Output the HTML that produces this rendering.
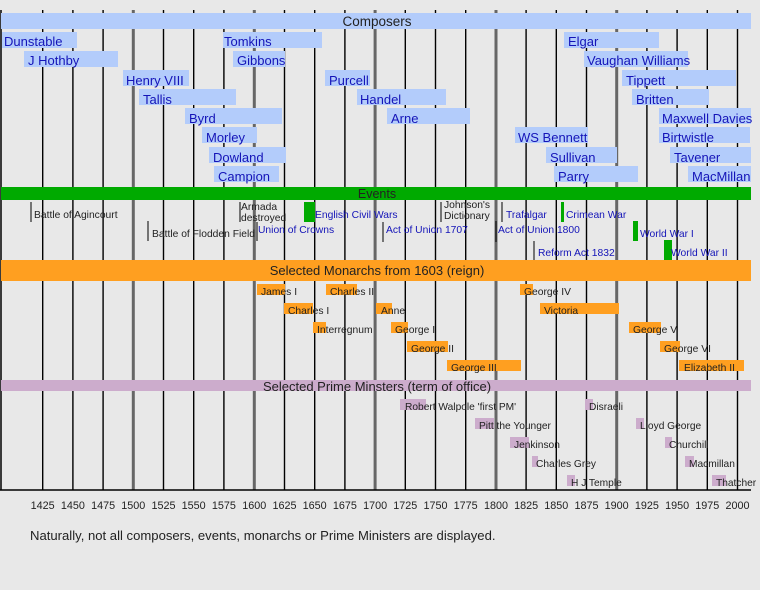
<!DOCTYPE html>
<html><head><meta charset="utf-8"><style>
body{margin:0;background:#e8e8e8}
svg{display:block;font-family:"Liberation Sans",sans-serif}
.c{font-size:13px;fill:#1414b8}
.e{font-size:10.3px;fill:#222}
.eb{font-size:10.3px;fill:#1414b8}
.m{font-size:10.3px;fill:#222}
.t{font-size:10.2px;fill:#222}
</style></head><body>
<svg width="760" height="590" viewBox="0 0 760 590">
<rect width="760" height="590" fill="#e8e8e8"/>
<g stroke="#000" stroke-width="1.4">
<line x1="42.7" y1="10" x2="42.7" y2="490"/><line x1="72.9" y1="10" x2="72.9" y2="490"/><line x1="103.1" y1="10" x2="103.1" y2="490"/>
<line x1="163.5" y1="10" x2="163.5" y2="490"/><line x1="193.7" y1="10" x2="193.7" y2="490"/><line x1="223.9" y1="10" x2="223.9" y2="490"/>
<line x1="284.5" y1="10" x2="284.5" y2="490"/><line x1="314.7" y1="10" x2="314.7" y2="490"/><line x1="344.9" y1="10" x2="344.9" y2="490"/>
<line x1="405.3" y1="10" x2="405.3" y2="490"/><line x1="435.5" y1="10" x2="435.5" y2="490"/><line x1="465.7" y1="10" x2="465.7" y2="490"/>
<line x1="526.1" y1="10" x2="526.1" y2="490"/><line x1="556.3" y1="10" x2="556.3" y2="490"/><line x1="586.5" y1="10" x2="586.5" y2="490"/>
<line x1="646.9" y1="10" x2="646.9" y2="490"/><line x1="677.1" y1="10" x2="677.1" y2="490"/><line x1="707.3" y1="10" x2="707.3" y2="490"/>
<line x1="737.5" y1="10" x2="737.5" y2="490"/>
</g>
<g stroke="#666" stroke-width="3">
<line x1="133.3" y1="10" x2="133.3" y2="490"/><line x1="254.3" y1="10" x2="254.3" y2="490"/><line x1="375.1" y1="10" x2="375.1" y2="490"/>
<line x1="496" y1="10" x2="496" y2="490"/><line x1="616.7" y1="10" x2="616.7" y2="490"/>
</g>
<line x1="1" y1="10" x2="1" y2="490" stroke="#000" stroke-width="1.5"/>
<line x1="0" y1="490" x2="751" y2="490" stroke="#000" stroke-width="1.5"/>

<!-- Composers -->
<rect x="1" y="13" width="750" height="16" fill="#b3ccfb"/>
<text x="377" y="26" text-anchor="middle" font-size="13.5" fill="#222">Composers</text>
<g fill="#b3ccfb">
<rect x="2" y="32" width="75" height="16"/><rect x="24" y="51" width="94" height="16"/><rect x="123" y="70" width="66" height="16"/>
<rect x="139" y="89" width="97" height="16"/><rect x="185" y="108" width="97" height="16"/><rect x="202" y="127" width="55" height="16"/>
<rect x="209" y="147" width="77" height="16"/><rect x="214" y="166" width="65" height="16"/><rect x="223" y="32" width="99" height="16"/>
<rect x="233" y="51" width="52" height="16"/><rect x="325" y="70" width="45" height="16"/><rect x="357" y="89" width="89" height="16"/>
<rect x="387" y="108" width="83" height="16"/><rect x="564" y="32" width="95" height="16"/><rect x="584" y="51" width="104" height="16"/>
<rect x="622" y="70" width="114" height="16"/><rect x="632" y="89" width="77" height="16"/><rect x="659" y="108" width="92" height="16"/>
<rect x="515" y="127" width="73" height="16"/><rect x="659" y="127" width="91" height="16"/><rect x="546" y="147" width="71" height="16"/>
<rect x="670" y="147" width="81" height="16"/><rect x="554" y="166" width="84" height="16"/><rect x="688" y="166" width="63" height="16"/>
</g>
<g class="c">
<text x="4" y="46">Dunstable</text><text x="28" y="65">J Hothby</text><text x="126" y="85">Henry VIII</text>
<text x="143" y="104">Tallis</text><text x="189" y="123">Byrd</text><text x="206" y="142">Morley</text>
<text x="213" y="162">Dowland</text><text x="218" y="181">Campion</text><text x="224" y="46">Tomkins</text>
<text x="237" y="65">Gibbons</text><text x="329" y="85">Purcell</text><text x="360" y="104">Handel</text>
<text x="391" y="123">Arne</text><text x="568" y="46">Elgar</text><text x="587" y="65">Vaughan Williams</text>
<text x="626" y="85">Tippett</text><text x="636" y="104">Britten</text><text x="662" y="123">Maxwell Davies</text>
<text x="518" y="142">WS Bennett</text><text x="662" y="142">Birtwistle</text><text x="550" y="162">Sullivan</text>
<text x="674" y="162">Tavener</text><text x="558" y="181">Parry</text><text x="692" y="181">MacMillan</text>
</g>

<!-- Events -->
<rect x="1" y="187" width="750" height="13" fill="#00aa00"/>
<text x="377" y="198" text-anchor="middle" font-size="12.5" fill="#222">Events</text>
<g stroke="#000" stroke-width="1">
<line x1="31" y1="202" x2="31" y2="222"/><line x1="148" y1="221" x2="148" y2="241"/><line x1="240" y1="202" x2="240" y2="222"/>
<line x1="257" y1="222" x2="257" y2="241"/><line x1="383" y1="222" x2="383" y2="242"/><line x1="441" y1="202" x2="441" y2="222"/>
<line x1="502" y1="202" x2="502" y2="222"/><line x1="496" y1="221" x2="496" y2="242"/><line x1="534" y1="241" x2="534" y2="260"/>
</g>
<g fill="#00aa00">
<rect x="304" y="202" width="11" height="20"/><rect x="561" y="202" width="3" height="20"/>
<rect x="633" y="221" width="5" height="20"/><rect x="664" y="240" width="8" height="20"/>
</g>
<g class="e">
<text x="34" y="218">Battle of Agincourt</text><text x="152" y="237">Battle of Flodden Field</text>
<text x="241" y="210">Armada</text><text x="241" y="221">destroyed</text>
<text x="444" y="208">Johnson's</text><text x="444" y="219">Dictionary</text>
</g>
<g class="eb">
<text x="258" y="233">Union of Crowns</text><text x="315" y="218">English Civil Wars</text>
<text x="386" y="233">Act of Union 1707</text><text x="506" y="218">Trafalgar</text>
<text x="498" y="233">Act of Union 1800</text><text x="566" y="218">Crimean War</text>
<text x="538" y="256">Reform Act 1832</text><text x="640" y="237">World War I</text>
<text x="671" y="256">World War II</text>
</g>

<!-- Monarchs -->
<rect x="1" y="260" width="750" height="21" fill="#ff9f20"/>
<text x="377" y="275" text-anchor="middle" font-size="13" fill="#222">Selected Monarchs from 1603 (reign)</text>
<g fill="#ff9f20">
<rect x="257" y="284" width="28" height="11"/><rect x="326" y="284" width="31" height="11"/><rect x="284" y="303" width="29" height="11"/>
<rect x="313" y="322" width="13" height="11"/><rect x="376" y="303" width="16" height="11"/><rect x="391" y="322" width="17" height="11"/>
<rect x="407" y="341" width="41" height="11"/><rect x="447" y="360" width="74" height="11"/><rect x="520" y="284" width="13" height="11"/>
<rect x="540" y="303" width="79" height="11"/><rect x="629" y="322" width="32" height="11"/><rect x="660" y="341" width="20" height="11"/>
<rect x="679" y="360" width="65" height="11"/>
</g>
<g class="m">
<text x="261" y="295">James I</text><text x="330" y="295">Charles II</text><text x="288" y="314">Charles I</text>
<text x="317" y="333">Interregnum</text><text x="381" y="314">Anne</text><text x="395" y="333">George I</text>
<text x="411" y="352">George II</text><text x="451" y="371">George III</text><text x="524" y="295">George IV</text>
<text x="544" y="314">Victoria</text><text x="633" y="333">George V</text><text x="664" y="352">George VI</text>
<text x="684" y="371">Elizabeth II</text>
</g>

<!-- PMs -->
<rect x="1" y="380" width="750" height="11" fill="#ccaccc"/>
<text x="377" y="391" text-anchor="middle" font-size="13" fill="#222">Selected Prime Minsters (term of office)</text>
<g fill="#ccaccc">
<rect x="400" y="399" width="26" height="11"/><rect x="475" y="418" width="19" height="11"/><rect x="510" y="437" width="19" height="11"/>
<rect x="532" y="456" width="6" height="11"/><rect x="567" y="475" width="8" height="11"/><rect x="585" y="399" width="8" height="11"/>
<rect x="636" y="418" width="8" height="11"/><rect x="665" y="437" width="7" height="11"/><rect x="685" y="456" width="9" height="11"/>
<rect x="712" y="475" width="14" height="11"/>
</g>
<g class="t">
<text x="405" y="410">Robert Walpole 'first PM'</text><text x="479" y="429">Pitt the Younger</text>
<text x="514" y="448">Jenkinson</text><text x="536" y="467">Charles Grey</text><text x="571" y="486">H J Temple</text>
<text x="589" y="410">Disraeli</text><text x="640" y="429">Lloyd George</text><text x="669" y="448">Churchill</text>
<text x="689" y="467">Macmillan</text><text x="716" y="486">Thatcher</text>
</g>

<!-- Axis labels -->
<g font-size="10.8" fill="#222" text-anchor="middle">
<text x="42.7" y="509">1425</text><text x="72.9" y="509">1450</text><text x="103.1" y="509">1475</text><text x="133.3" y="509">1500</text>
<text x="163.5" y="509">1525</text><text x="193.7" y="509">1550</text><text x="223.9" y="509">1575</text><text x="254.3" y="509">1600</text>
<text x="284.5" y="509">1625</text><text x="314.7" y="509">1650</text><text x="344.9" y="509">1675</text><text x="375.1" y="509">1700</text>
<text x="405.3" y="509">1725</text><text x="435.5" y="509">1750</text><text x="465.7" y="509">1775</text><text x="496" y="509">1800</text>
<text x="526.1" y="509">1825</text><text x="556.3" y="509">1850</text><text x="586.5" y="509">1875</text><text x="616.7" y="509">1900</text>
<text x="646.9" y="509">1925</text><text x="677.1" y="509">1950</text><text x="707.3" y="509">1975</text><text x="737.5" y="509">2000</text>
</g>
<text x="30" y="540" font-size="13.1" fill="#222">Naturally, not all composers, events, monarchs or Prime Ministers are displayed.</text>
</svg>
</body></html>
